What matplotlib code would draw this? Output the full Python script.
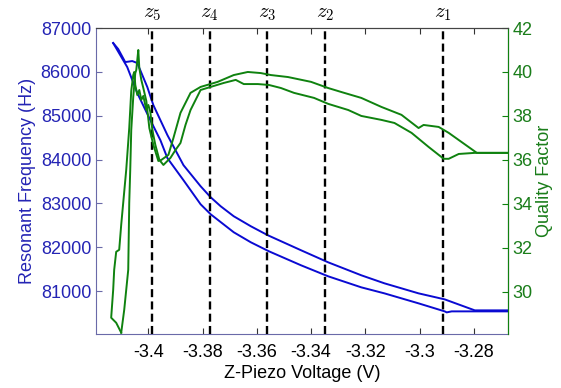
import numpy as np
import matplotlib
matplotlib.use("Agg")
import matplotlib.pyplot as plt

plt.rcParams['font.family'] = ['Liberation Sans', 'DejaVu Sans']
plt.rcParams['mathtext.fontset'] = 'cm'
plt.rcParams['axes.unicode_minus'] = False

# resonant frequency, two sweeps (hysteresis)
v_f_up = [-3.41296, -3.41111, -3.40852, -3.40593, -3.40407, -3.40037, -3.39815, -3.39296,
          -3.38704, -3.38074, -3.37704, -3.37333, -3.36852, -3.36222, -3.35593, -3.34370,
          -3.33370, -3.32148, -3.31296, -3.30037, -3.29074, -3.27963, -3.26593]
f_up = [86657, 86520, 86223, 86246, 86201, 85652, 85241, 84556,
        83871, 83391, 83140, 82934, 82706, 82478, 82272, 81930,
        81655, 81359, 81176, 80947, 80810, 80559, 80559]
v_f_dn = [-3.41296, -3.40778, -3.40407, -3.39926, -3.39556, -3.39296, -3.38704, -3.38074,
          -3.37704, -3.36852, -3.36222, -3.35556, -3.34370, -3.33370, -3.32148, -3.31296,
          -3.30037, -3.29074, -3.29000, -3.28815, -3.26593]
f_dn = [86657, 86109, 85515, 84899, 84442, 84031, 83528, 82980,
        82752, 82341, 82112, 81907, 81587, 81336, 81084, 80947,
        80719, 80536, 80513, 80536, 80536]

# quality factor, two sweeps
v_q_a = [-3.41000, -3.41185, -3.41370, -3.41296, -3.41259, -3.41185, -3.41074, -3.41000,
         -3.40926, -3.40815, -3.40704, -3.40630, -3.40556, -3.40519, -3.40481, -3.40407,
         -3.40333, -3.40259, -3.40185, -3.40074, -3.40000, -3.39926, -3.39852, -3.39741,
         -3.39593, -3.39444, -3.39185, -3.39000, -3.38815, -3.38630, -3.38444, -3.38074,
         -3.37704, -3.37222, -3.36778, -3.36481, -3.35963, -3.35556, -3.35111, -3.34630,
         -3.33889, -3.33370, -3.32630, -3.32148, -3.31407, -3.30926, -3.30296, -3.29667,
         -3.29111, -3.28926, -3.28556, -3.27963, -3.26593]
q_a = [28.14, 28.59, 28.82, 30.09, 31.00, 31.82, 31.91, 33.05,
       34.05, 35.55, 37.45, 39.14, 39.86, 40.00, 39.41, 38.95,
       39.18, 38.73, 38.91, 38.27, 38.50, 38.18, 37.36, 36.68,
       36.00, 35.77, 36.09, 36.45, 36.77, 37.59, 38.27, 39.18,
       39.32, 39.50, 39.64, 39.45, 39.45, 39.41, 39.27, 39.05,
       38.82, 38.55, 38.27, 38.00, 37.82, 37.68, 37.23, 36.59,
       36.05, 36.05, 36.27, 36.32, 36.32]
v_q_b = [-3.41000, -3.40889, -3.40741, -3.40704, -3.40667, -3.40630, -3.40556, -3.40481,
         -3.40444, -3.40407, -3.40370, -3.40333, -3.40259, -3.40185, -3.40074, -3.39963,
         -3.39815, -3.39630, -3.39519, -3.39259, -3.39074, -3.38815, -3.38444, -3.38074,
         -3.37444, -3.36852, -3.36333, -3.35852, -3.35481, -3.34852, -3.34000, -3.33370,
         -3.32889, -3.32148, -3.31407, -3.30667, -3.30037, -3.29852, -3.29296, -3.28926,
         -3.27889, -3.26593]
q_b = [28.14, 29.18, 31.00, 34.05, 35.55, 37.36, 38.86, 39.95,
       40.09, 40.55, 41.00, 40.18, 39.64, 39.27, 38.68, 37.45,
       36.68, 35.95, 36.00, 36.23, 37.00, 38.14, 39.05, 39.32,
       39.55, 39.86, 40.00, 39.95, 39.86, 39.77, 39.55, 39.27,
       39.09, 38.82, 38.41, 38.05, 37.45, 37.59, 37.50, 37.23,
       36.32, 36.32]

# marked voltages
z_pos = [-3.2915, -3.3348, -3.3563, -3.3774, -3.3985]
z_names = ['$z_1$', '$z_2$', '$z_3$', '$z_4$', '$z_5$']

x_ticks = [-3.4, -3.38, -3.36, -3.34, -3.32, -3.3, -3.28]
x_labels = ['-3.4', '-3.38', '-3.36', '-3.34', '-3.32', '-3.3', '-3.28']
f_ticks = [81000, 82000, 83000, 84000, 85000, 86000, 87000]
q_ticks = [30, 32, 34, 36, 38, 40, 42]

blue = '#0a0ad2'
green = '#0f820f'
blue_txt = '#2424b4'
green_txt = '#1a7d1a'

fig = plt.figure(figsize=(5.61, 3.88), dpi=100)
ax = fig.add_axes([0.1711, 0.1392, 0.7344, 0.7886])
ax2 = ax.twinx()

ax.plot(v_f_up, f_up, color=blue, lw=1.4)
ax.plot(v_f_dn, f_dn, color=blue, lw=1.4)
ax2.plot(v_q_a, q_a, color=green, lw=1.4)
ax2.plot(v_q_b, q_b, color=green, lw=1.4)

for zp, zn in zip(z_pos, z_names):
    ax.axvline(zp, color='black', lw=1.7, linestyle=(0, (3.4, 1.8)), zorder=5)
    ax.text(zp, 87000 + 120, zn, ha='center', va='bottom', fontsize=15)

ax.set_xlim(-3.4193, -3.2674)
ax.set_ylim(80020, 87000)
ax2.set_ylim(28.08, 42)

ax.set_xticks(x_ticks)
ax.set_xticklabels(x_labels)
ax.set_yticks(f_ticks)
ax.set_yticklabels([str(t) for t in f_ticks])
ax2.set_yticks(q_ticks)

ax.tick_params(axis='x', direction='in', top=True, labelsize=13, length=4, pad=7, colors='#333333')
ax.tick_params(axis='x', labelcolor='black')
ax.tick_params(axis='y', direction='in', labelsize=13, length=4, colors='#6a6aa8', labelcolor=blue_txt)
ax2.tick_params(axis='y', direction='in', labelsize=13, length=4, colors=green, labelcolor=green_txt, pad=3)

ax.spines['left'].set_color('#6a6aa8')
ax.spines['bottom'].set_color('#6a6aa8')
ax.spines['top'].set_color('#444444')
ax2.spines['left'].set_visible(False)
ax2.spines['right'].set_color(green)
ax2.spines['top'].set_color('#444444')
ax2.spines['bottom'].set_visible(False)

ax.set_xlabel('Z-Piezo Voltage (V)', fontsize=13, labelpad=3)
ax.set_ylabel('Resonant Frequency (Hz)', fontsize=13, color=blue_txt, labelpad=3)
ax2.set_ylabel('Quality Factor', fontsize=13, color=green_txt, labelpad=3)

fig.savefig('out.png', dpi=100)
